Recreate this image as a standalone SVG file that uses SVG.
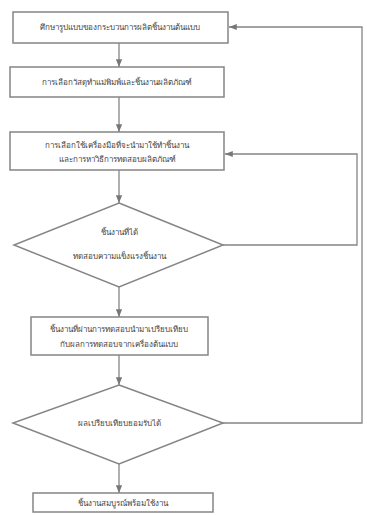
<svg xmlns="http://www.w3.org/2000/svg" width="367" height="515" viewBox="0 0 367 515">
<style>
.box{fill:#fff;stroke:#858585;stroke-width:1.5}
.ln{fill:none;stroke:#858585;stroke-width:1.3}
.t{font-family:"Noto Sans","DejaVu Sans",sans-serif;font-size:8px;fill:#444;text-anchor:middle}
</style>
<defs>
<marker id="ah" viewBox="0 0 10 10" refX="10" refY="5" markerWidth="6" markerHeight="6" orient="auto">
<path d="M0,1 L10,5 L0,9 z" fill="#777"/>
</marker>
</defs>
<rect width="367" height="515" fill="#fff"/>
<g id="connectors">
<line class="ln" x1="119" y1="43" x2="119" y2="67" marker-end="url(#ah)"/>
<line class="ln" x1="119" y1="97" x2="119" y2="132" marker-end="url(#ah)"/>
<line class="ln" x1="119" y1="170" x2="119" y2="203" marker-end="url(#ah)"/>
<line class="ln" x1="119" y1="287" x2="119" y2="317" marker-end="url(#ah)"/>
<line class="ln" x1="119" y1="355" x2="119" y2="385" marker-end="url(#ah)"/>
<line class="ln" x1="119" y1="464" x2="119" y2="493" marker-end="url(#ah)"/>
<polyline class="ln" points="223,245 357,245 357,154 225,154" marker-end="url(#ah)"/>
<polyline class="ln" points="223,423 362,423 362,27 229,27" marker-end="url(#ah)"/>
</g>
<g id="n1">
<rect class="box" x="13" y="12" width="215" height="31"/>
<text class="t" x="120" y="30">ศึกษารูปแบบของกระบวนการผลิตชิ้นงานต้นแบบ</text>
</g>
<g id="n2">
<rect class="box" x="10" y="67" width="214" height="30"/>
<text class="t" x="117" y="85">การเลือกวัสดุทำแม่พิมพ์และชิ้นงานผลิตภัณฑ์</text>
</g>
<g id="n3">
<rect class="box" x="10" y="132" width="214" height="38"/>
<text class="t" x="117" y="148">การเลือกใช้เครื่องมือที่จะนำมาใช้ทำชิ้นงาน</text>
<text class="t" x="117" y="162">และการหาวิธีการทดสอบผลิตภัณฑ์</text>
</g>
<g id="n4">
<polygon class="box" points="119,203 223,245 119,287 14,245"/>
<text class="t" x="119" y="235">ชิ้นงานที่ได้</text>
<text class="t" x="119" y="259">ทดสอบความแข็งแรงชิ้นงาน</text>
</g>
<g id="n5">
<rect class="box" x="31" y="317" width="177" height="38"/>
<text class="t" x="119" y="332">ชิ้นงานที่ผ่านการทดสอบนำมาเปรียบเทียบ</text>
<text class="t" x="119" y="347">กับผลการทดสอบจากเครื่องต้นแบบ</text>
</g>
<g id="n6">
<polygon class="box" points="119,385 223,423 119,464 13,423"/>
<text class="t" x="119" y="426">ผลเปรียบเทียบยอมรับได้</text>
</g>
<g id="n7">
<rect class="box" x="33" y="493" width="180" height="19"/>
<text class="t" x="123" y="506">ชิ้นงานสมบูรณ์พร้อมใช้งาน</text>
</g>
</svg>
